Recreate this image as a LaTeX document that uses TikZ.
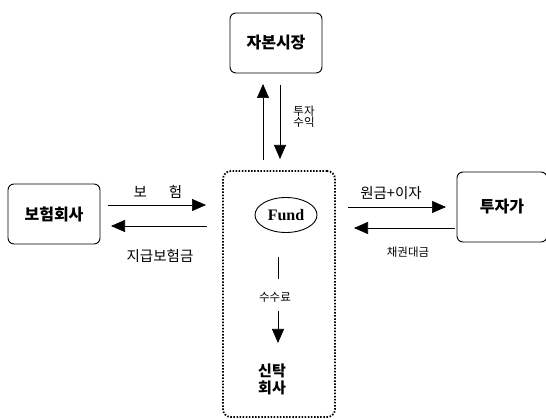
\documentclass[tikz,border=0pt]{standalone}
\usepackage{fontspec}
\newfontfamily\kr{Noto Sans CJK KR}
\setmainfont{Liberation Serif}
\usetikzlibrary{arrows.meta,shapes.geometric}
\begin{document}
\begin{tikzpicture}[x=1pt,y=-1pt,
  box/.style={draw,line width=0.9pt,rounded corners=6pt,minimum width=92pt,minimum height=60pt,font=\kr\bfseries\fontsize{16}{18}\selectfont},
  arr/.style={line width=0.7pt,-{Triangle[length=14pt,width=12pt]}},
  lbl/.style={font=\kr\fontsize{14.5}{16}\selectfont,inner sep=1pt},
  slbl/.style={font=\kr\fontsize{11.5}{13}\selectfont,inner sep=1pt}]
\useasboundingbox (0,0) rectangle (546,419);
\node[box] (cap) at (276,43) {자본시장};
\node[box] (ins) at (54,214) {보험회사};
\node[box,minimum width=90pt,minimum height=70pt] (inv) at (502,207) {투자가};
\node[draw,line width=1.8pt,dash pattern=on 1.5pt off 1.6pt,rounded corners=8pt,minimum width=112pt,minimum height=246pt] (trust) at (279,294) {};
\node[draw,ellipse,line width=0.9pt,minimum width=62pt,minimum height=35pt,inner sep=0pt,font=\rmfamily\bfseries\fontsize{16}{18}\selectfont] (fund) at (286,215) {Fund};
\node[font=\kr\bfseries\fontsize{15}{17}\selectfont,align=center] (tc) at (272,379) {신탁\\[0pt]회사};
% vertical arrows to capital market
\coordinate (u1) at (263,160);
\coordinate (u2) at (263,84);
\coordinate (d1) at (280,85);
\coordinate (d2) at (280,159);
\draw[arr] (u1) -- (u2);
\draw[arr] (d1) -- (d2);
\node[slbl,align=left] (ir) at (304,117) {투자\\[-2pt]수익};
% left arrows
\coordinate (l1) at (108,205);
\coordinate (l2) at (206,205);
\coordinate (l3) at (207,226);
\coordinate (l4) at (111,226);
\draw[arr] (l1) -- (l2);
\draw[arr] (l3) -- (l4);
\node[lbl] (bh) at (158,192) {보\hspace{22pt}험};
\node[lbl] (jg) at (160,256) {지급보험금};
% right arrows
\coordinate (r1) at (348,207);
\coordinate (r2) at (446,207);
\coordinate (r3) at (455,228);
\coordinate (r4) at (354,228);
\draw[arr] (r1) -- (r2);
\draw[arr] (r3) -- (r4);
\node[lbl] (wg) at (391,193) {원금+이자};
\node[slbl] (cg) at (408,252) {채권대금};
% fee arrow
\coordinate (f1) at (278,257);
\coordinate (f2) at (278,279);
\coordinate (f3) at (278,311);
\coordinate (f4) at (278,343);
\draw[line width=0.7pt] (f1) -- (f2);
\node[slbl] (fee) at (275,297) {수수료};
\draw[arr] (f3) -- (f4);
\end{tikzpicture}
\end{document}
